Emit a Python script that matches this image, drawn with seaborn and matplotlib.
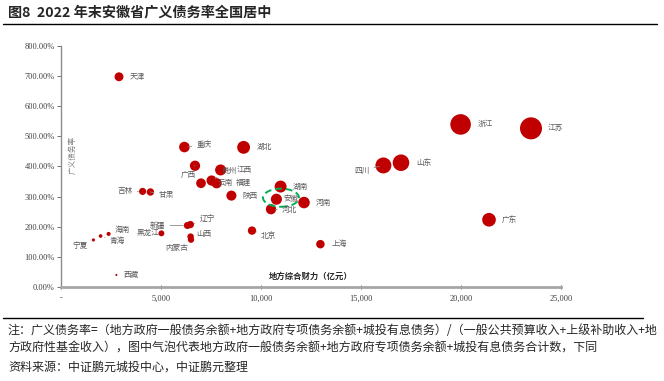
import numpy as np
import pandas as pd
import seaborn as sns
import matplotlib.pyplot as plt
from matplotlib.lines import Line2D
from matplotlib.patches import Ellipse

sns.set_style("white")
plt.rcParams["font.family"] = ["Noto Sans CJK SC", "DejaVu Sans"]

# data
provinces = ["天津", "西藏", "宁夏", "青海", "海南", "吉林", "甘肃", "黑龙江",
             "新疆", "辽宁", "山西", "内蒙古", "重庆", "湖北", "广西", "江西",
             "贵州", "福建", "云南", "陕西", "湖南", "安徽", "河北", "河南",
             "北京", "上海", "四川", "山东", "浙江", "江苏", "广东"]
capacity = [2900, 2770, 1620, 1980, 2380, 4080, 4470, 5020,
            6320, 6470, 6480, 6500, 6170, 9130, 6700, 7980,
            7530, 7780, 7000, 8520, 10980, 10770, 10500, 12150,
            9550, 12970, 16120, 17000, 19980, 23500, 21400]
debt_ratio = [697, 40, 156, 169, 176, 317, 315, 178,
              204, 207, 167, 157, 464, 463, 402, 388,
              353, 344, 344, 303, 333, 291, 258, 280,
              187, 142, 403, 412, 539, 526, 223]
debt_total = [20200, 1100, 2530, 3350, 4190, 12930, 14080, 8940,
              12890, 13390, 10820, 10200, 28630, 42270, 26930, 30960,
              26580, 26760, 24080, 25820, 36560, 31340, 27090, 34020,
              17860, 18420, 64960, 70040, 107690, 123610, 47720]

df = pd.DataFrame({"province": provinces, "capacity": capacity,
                   "ratio": debt_ratio, "debt": debt_total})

# label placement: offset in pixels (dx, dy), alignment, leader line
label_pos = {
    "天津": (11, 0, "left", False), "西藏": (7, 0, "left", False),
    "宁夏": (-6, -6, "right", False), "青海": (9, -5, "left", True),
    "海南": (6, 4, "left", False), "吉林": (-10, 0, "right", True),
    "甘肃": (8, -3, "left", True), "黑龙江": (-2, 0, "right", False),
    "新疆": (-22, 0, "right", True), "辽宁": (9, 5, "left", True),
    "山西": (6, 3, "left", False), "内蒙古": (-14, -8, "center", False),
    "重庆": (12, 2, "left", True), "湖北": (13, 0, "left", False),
    "广西": (-7, -9, "center", True), "江西": (16, 0, "left", False),
    "贵州": (10, 10, "left", True), "福建": (19, 0, "left", False),
    "云南": (17, 0, "left", False), "陕西": (11, 0, "left", False),
    "湖南": (12, 0, "left", False), "安徽": (7, 0, "left", False),
    "河北": (11, -1, "left", True), "河南": (12, 0, "left", False),
    "北京": (9, -5, "left", True), "上海": (11, 0, "left", False),
    "四川": (-14, -5, "right", True), "山东": (15, 0, "left", False),
    "浙江": (17, 0, "left", False), "江苏": (17, 0, "left", False),
    "广东": (13, 0, "left", False),
}

fig = plt.figure(figsize=(6.64, 3.81), dpi=100)
ax = fig.add_axes([61 / 664, 94 / 381, 500 / 664, 241.3 / 381])

sns.scatterplot(data=df, x="capacity", y="ratio", size="debt",
                sizes=(0, 251), size_norm=(0, max(debt_total)),
                color="#C00000", edgecolor="none", linewidth=0,
                alpha=1, legend=False, ax=ax)

for _, r in df.iterrows():
    dx, dy, ha, leader = label_pos[r["province"]]
    arrow = None
    if leader:
        arrow = dict(arrowstyle="-", color="#8c8c8c", lw=0.6,
                     shrinkA=1, shrinkB=3)
    ax.annotate(r["province"], (r["capacity"], r["ratio"]),
                xytext=(dx, dy), textcoords="offset pixels",
                ha=ha, va="center", fontsize=5.5, color="#595959",
                arrowprops=arrow)

# highlight 安徽
ax.add_patch(Ellipse((11000, 296), width=1800, height=60, fill=False,
                     ec="#00B050", lw=1.4, ls=(0, (3.5, 2))))

ax.set_xlim(0, 25000)
ax.set_ylim(0, 800)
ax.set_xticks(np.arange(0, 25001, 5000))
ax.set_xticklabels(["-"] + [f"{v:,}" for v in range(5000, 25001, 5000)])
ax.set_yticks(np.arange(0, 801, 100))
ax.set_yticklabels([f"{v:.2f}%" for v in range(0, 801, 100)])
ax.set_xlabel("")
ax.set_ylabel("")

for lab in ax.get_xticklabels() + ax.get_yticklabels():
    lab.set_family("Liberation Serif")
    lab.set_fontsize(6)
    lab.set_color("#404040")

ax.tick_params(axis="y", left=True, direction="out", length=3, width=0.6,
               color="#595959", pad=1.5)
ax.tick_params(axis="x", bottom=True, direction="inout", length=3, width=0.6,
               color="#404040", pad=4)

for s in ["top", "right"]:
    ax.spines[s].set_visible(False)
ax.spines["left"].set_color("#8c8c8c")
ax.spines["left"].set_linewidth(1.0)
ax.spines["bottom"].set_color("#a6a6a6")
ax.spines["bottom"].set_linewidth(2.0)

ax.text(0.5, 0.043, "地方综合财力（亿元）", transform=ax.transAxes,
        ha="center", va="center", fontsize=6, fontweight="bold",
        color="#262626")
ax.text(0.024, 0.547, "广义债务率", transform=ax.transAxes, rotation=90,
        ha="center", va="center", fontsize=5.5, color="#7f7f7f")

# title and notes
fig.text(8 / 664, 1 - 12 / 381, "图8  2022 年末安徽省广义债务率全国居中",
         fontsize=10.2, fontweight="bold", va="center", ha="left")
fig.add_artist(Line2D([3 / 664, 657 / 664], [1 - 24 / 381, 1 - 24 / 381],
                      transform=fig.transFigure, color="black", lw=1))
fig.add_artist(Line2D([3 / 664, 643 / 664], [1 - 318 / 381, 1 - 318 / 381],
                      transform=fig.transFigure, color="black", lw=1))

notes = ["注：广义债务率=（地方政府一般债务余额+地方政府专项债务余额+城投有息债务）/（一般公共预算收入+上级补助收入+地",
         "方政府性基金收入），图中气泡代表地方政府一般债务余额+地方政府专项债务余额+城投有息债务合计数，下同",
         "资料来源：中证鹏元城投中心，中证鹏元整理"]
for i, t in enumerate(notes):
    fig.text(8 / 664, 1 - (330 + 18.5 * i) / 381, t, fontsize=8.65,
             va="center", ha="left")

fig.savefig("out.png", dpi=100)
